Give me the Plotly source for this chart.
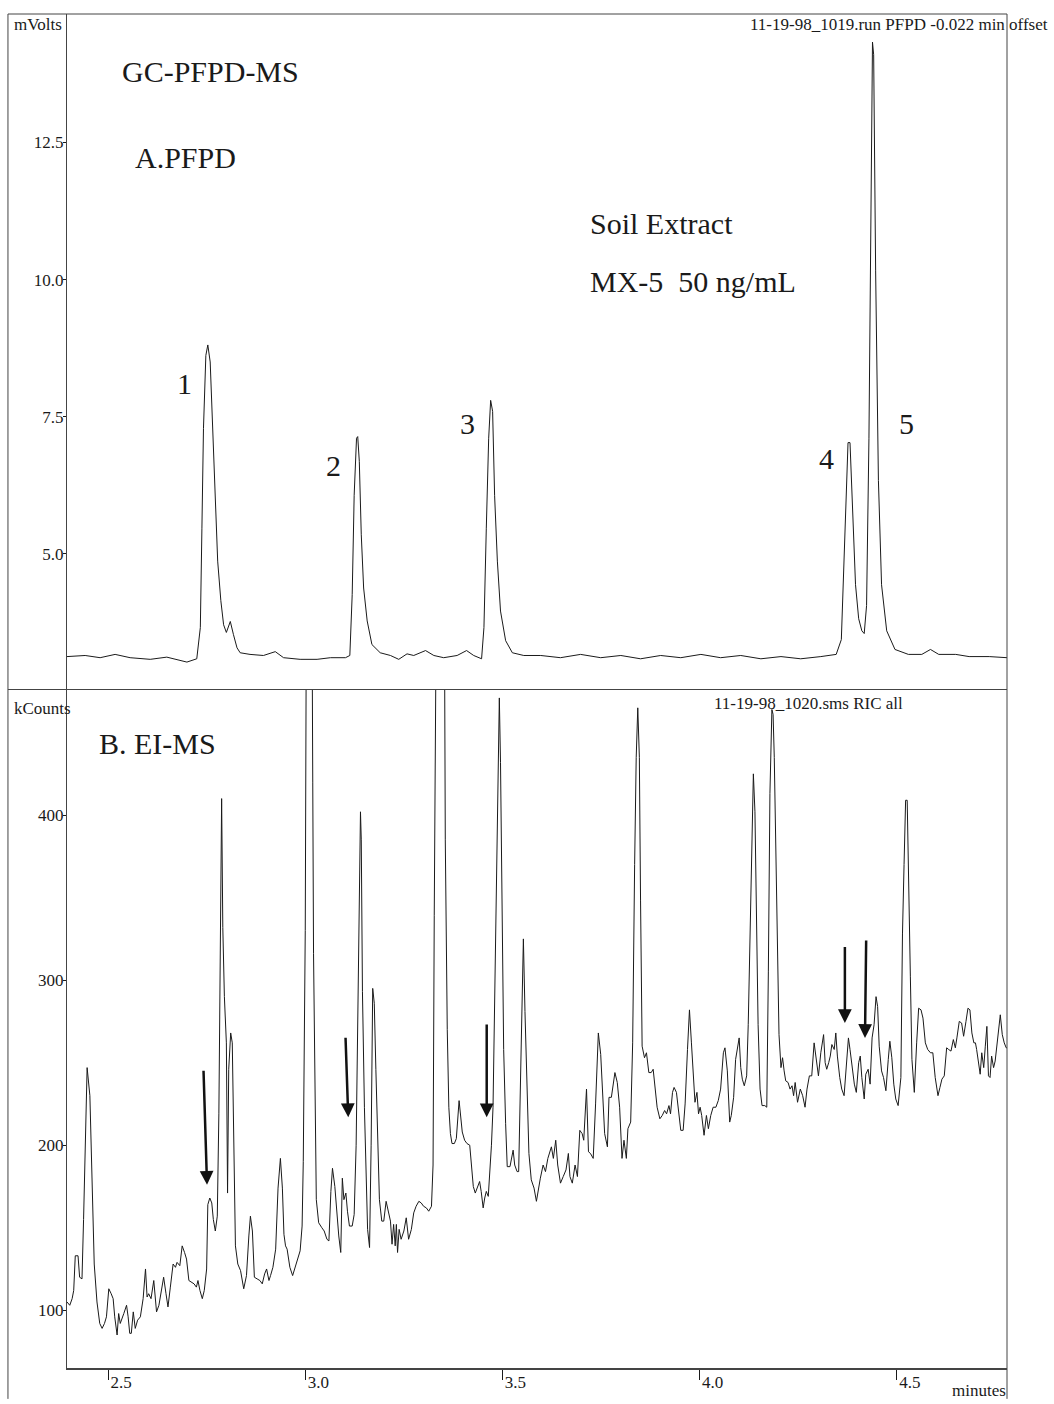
import plotly.graph_objects as go

# ---------------- data ----------------
pfpd_time = [2.396, 2.442, 2.480, 2.518, 2.556, 2.607, 2.649, 2.670, 2.700, 2.725,
             2.734, 2.738, 2.742, 2.748, 2.753, 2.759, 2.765, 2.772, 2.778, 2.786,
             2.793, 2.800, 2.804, 2.810, 2.818, 2.827, 2.835, 2.860, 2.894, 2.924,
             2.945, 2.987, 3.030, 3.064, 3.102, 3.113, 3.119, 3.124, 3.130, 3.133,
             3.137, 3.142, 3.148, 3.157, 3.169, 3.190, 3.216, 3.237, 3.258, 3.275,
             3.305, 3.326, 3.351, 3.385, 3.409, 3.427, 3.447, 3.453, 3.459, 3.465,
             3.470, 3.475, 3.480, 3.487, 3.495, 3.508, 3.525, 3.554, 3.597, 3.647,
             3.698, 3.749, 3.800, 3.850, 3.901, 3.952, 4.003, 4.053, 4.104, 4.155,
             4.206, 4.256, 4.307, 4.346, 4.359, 4.366, 4.372, 4.376, 4.381, 4.387,
             4.395, 4.403, 4.411, 4.417, 4.423, 4.429, 4.434, 4.438, 4.441, 4.446,
             4.453, 4.461, 4.474, 4.495, 4.529, 4.563, 4.585, 4.606, 4.649, 4.683,
             4.734, 4.779]
pfpd_mv = [3.13, 3.15, 3.11, 3.17, 3.11, 3.08, 3.12, 3.08, 3.03, 3.09,
           3.66, 5.47, 7.29, 8.62, 8.81, 8.50, 7.29, 5.78, 4.87, 4.15,
           3.71, 3.57, 3.66, 3.77, 3.53, 3.29, 3.20, 3.17, 3.15, 3.22,
           3.11, 3.08, 3.08, 3.11, 3.11, 3.15, 4.26, 6.07, 7.11, 7.14,
           6.69, 5.35, 4.38, 3.78, 3.35, 3.20, 3.15, 3.08, 3.18, 3.15,
           3.24, 3.15, 3.11, 3.15, 3.24, 3.15, 3.09, 3.66, 5.47, 7.11,
           7.80, 7.60, 6.07, 4.87, 3.96, 3.42, 3.20, 3.15, 3.15, 3.11,
           3.17, 3.11, 3.15, 3.09, 3.15, 3.11, 3.17, 3.11, 3.15, 3.09,
           3.13, 3.09, 3.13, 3.17, 3.44, 4.82, 6.34, 7.03, 7.03, 5.96,
           4.44, 3.82, 3.60, 3.55, 4.06, 7.11, 11.68, 14.33, 14.10, 10.16,
           6.34, 4.44, 3.60, 3.26, 3.17, 3.17, 3.26, 3.17, 3.17, 3.13,
           3.13, 3.11]

ms_time = [2.396, 2.403, 2.409, 2.413, 2.417, 2.424, 2.428, 2.434, 2.438, 2.442,
           2.447, 2.454, 2.459, 2.465, 2.472, 2.479, 2.485, 2.491, 2.496, 2.502,
           2.508, 2.513, 2.517, 2.523, 2.527, 2.531, 2.540, 2.547, 2.551, 2.555,
           2.559, 2.564, 2.569, 2.575, 2.582, 2.589, 2.595, 2.599, 2.603, 2.609,
           2.616, 2.623, 2.629, 2.635, 2.641, 2.647, 2.652, 2.658, 2.665, 2.671,
           2.675, 2.682, 2.688, 2.694, 2.699, 2.705, 2.711, 2.718, 2.724, 2.728,
           2.733, 2.739, 2.744, 2.750, 2.753, 2.758, 2.763, 2.767, 2.772, 2.777,
           2.781, 2.785, 2.788, 2.791, 2.795, 2.800, 2.802, 2.803, 2.806, 2.811,
           2.815, 2.819, 2.823, 2.829, 2.836, 2.844, 2.851, 2.857, 2.861, 2.866,
           2.871, 2.878, 2.885, 2.891, 2.897, 2.902, 2.908, 2.912, 2.918, 2.925,
           2.931, 2.937, 2.942, 2.946, 2.950, 2.954, 2.961, 2.968, 2.974, 2.980,
           2.987, 2.992, 2.995, 3.000, 3.005, 3.009, 3.014, 3.019, 3.021, 3.028,
           3.034, 3.042, 3.048, 3.055, 3.060, 3.065, 3.069, 3.075, 3.081, 3.085,
           3.090, 3.094, 3.098, 3.103, 3.107, 3.112, 3.119, 3.124, 3.129, 3.133,
           3.138, 3.140, 3.142, 3.145, 3.150, 3.154, 3.158, 3.163, 3.167, 3.171,
           3.175, 3.179, 3.184, 3.188, 3.194, 3.199, 3.205, 3.211, 3.216, 3.220,
           3.224, 3.228, 3.231, 3.234, 3.238, 3.243, 3.250, 3.256, 3.262, 3.269,
           3.275, 3.281, 3.288, 3.294, 3.300, 3.307, 3.313, 3.320, 3.324, 3.327,
           3.333, 3.339, 3.345, 3.350, 3.355, 3.360, 3.364, 3.368, 3.372, 3.378,
           3.383, 3.390, 3.393, 3.398, 3.404, 3.410, 3.417, 3.421, 3.426, 3.431,
           3.436, 3.442, 3.446, 3.451, 3.455, 3.459, 3.464, 3.468, 3.472, 3.476,
           3.480, 3.485, 3.489, 3.492, 3.495, 3.499, 3.503, 3.508, 3.512, 3.519,
           3.523, 3.527, 3.531, 3.537, 3.541, 3.546, 3.550, 3.553, 3.557, 3.563,
           3.567, 3.573, 3.580, 3.586, 3.590, 3.596, 3.603, 3.609, 3.615, 3.624,
           3.629, 3.635, 3.640, 3.647, 3.654, 3.661, 3.667, 3.671, 3.677, 3.684,
           3.690, 3.696, 3.702, 3.706, 3.713, 3.718, 3.723, 3.730, 3.736, 3.743,
           3.749, 3.753, 3.759, 3.766, 3.770, 3.776, 3.781, 3.785, 3.791, 3.797,
           3.803, 3.808, 3.814, 3.818, 3.825, 3.830, 3.835, 3.839, 3.843, 3.847,
           3.850, 3.854, 3.860, 3.865, 3.871, 3.877, 3.882, 3.888, 3.892, 3.899,
           3.905, 3.911, 3.916, 3.922, 3.926, 3.931, 3.935, 3.941, 3.946, 3.952,
           3.958, 3.963, 3.969, 3.974, 3.979, 3.984, 3.988, 3.993, 3.997, 4.001,
           4.005, 4.011, 4.017, 4.022, 4.028, 4.034, 4.041, 4.047, 4.053, 4.060,
           4.064, 4.070, 4.076, 4.080, 4.086, 4.091, 4.096, 4.100, 4.104, 4.108,
           4.113, 4.119, 4.123, 4.128, 4.133, 4.136, 4.140, 4.144, 4.148, 4.153,
           4.158, 4.165, 4.170, 4.174, 4.178, 4.183, 4.186, 4.189, 4.193, 4.197,
           4.201, 4.206, 4.210, 4.214, 4.218, 4.224, 4.229, 4.234, 4.238, 4.242,
           4.248, 4.255, 4.261, 4.267, 4.272, 4.278, 4.284, 4.290, 4.296, 4.301,
           4.307, 4.314, 4.318, 4.322, 4.327, 4.331, 4.335, 4.341, 4.345, 4.349,
           4.355, 4.360, 4.366, 4.372, 4.377, 4.381, 4.386, 4.392, 4.397, 4.403,
           4.407, 4.411, 4.417, 4.421, 4.427, 4.432, 4.437, 4.442, 4.447, 4.451,
           4.455, 4.461, 4.466, 4.472, 4.478, 4.482, 4.487, 4.492, 4.497, 4.503,
           4.510, 4.514, 4.518, 4.522, 4.526, 4.529, 4.534, 4.538, 4.544, 4.550,
           4.555, 4.561, 4.566, 4.572, 4.578, 4.585, 4.591, 4.597, 4.604, 4.609,
           4.614, 4.620, 4.626, 4.631, 4.637, 4.643, 4.648, 4.652, 4.658, 4.664,
           4.669, 4.675, 4.680, 4.685, 4.690, 4.695, 4.699, 4.702, 4.706, 4.711,
           4.715, 4.720, 4.724, 4.728, 4.732, 4.736, 4.740, 4.745, 4.749, 4.753,
           4.757, 4.762, 4.767, 4.772, 4.777, 4.781]
ms_kcounts = [105, 103, 107, 112, 133, 133, 120, 119, 155, 196,
              247, 230, 184, 128, 105, 92, 89, 92, 96, 113,
              110, 107, 96, 85, 98, 92, 98, 103, 96, 86,
              86, 99, 89, 94, 96, 107, 125, 108, 110, 107,
              118, 99, 103, 112, 120, 110, 102, 114, 128, 126,
              129, 127, 139, 135, 131, 118, 117, 116, 114, 118,
              112, 107, 112, 125, 164, 168, 165, 155, 148, 157,
              219, 360, 410, 332, 290, 262, 171, 171, 246, 268,
              262, 196, 139, 128, 124, 113, 121, 145, 157, 148,
              120, 119, 118, 116, 122, 125, 118, 121, 126, 137,
              174, 192, 174, 146, 139, 137, 126, 121, 126, 130,
              136, 151, 190, 330, 700, 950, 700, 420, 316, 167,
              153, 150, 148, 143, 142, 172, 186, 175, 153, 145,
              135, 180, 167, 171, 160, 151, 151, 158, 200, 281,
              363, 402, 385, 293, 223, 177, 149, 138, 200, 295,
              286, 246, 200, 167, 154, 154, 166, 160, 154, 140,
              152, 139, 152, 135, 149, 143, 148, 156, 143, 149,
              159, 163, 166, 165, 163, 162, 160, 163, 188, 339,
              600, 900, 1000, 700, 385, 270, 223, 207, 201, 201,
              204, 227, 218, 208, 203, 201, 200, 188, 175, 171,
              174, 178, 172, 162, 168, 172, 169, 183, 200, 223,
              293, 374, 432, 471, 432, 339, 258, 213, 187, 187,
              193, 197, 188, 184, 184, 246, 293, 325, 281, 223,
              195, 179, 174, 166, 172, 180, 188, 184, 192, 199,
              192, 203, 188, 177, 181, 185, 195, 181, 177, 188,
              181, 209, 207, 203, 234, 196, 195, 192, 225, 268,
              255, 234, 207, 199, 229, 229, 236, 244, 238, 223,
              192, 203, 192, 210, 214, 262, 370, 435, 465, 435,
              348, 260, 253, 256, 244, 244, 246, 234, 223, 216,
              218, 221, 219, 224, 219, 232, 235, 232, 223, 209,
              209, 225, 258, 282, 262, 240, 226, 232, 219, 223,
              218, 206, 218, 210, 218, 223, 223, 227, 234, 256,
              259, 245, 214, 218, 229, 252, 261, 265, 247, 240,
              236, 242, 273, 338, 402, 425, 402, 326, 273, 234,
              224, 224, 223, 305, 413, 464, 461, 435, 370, 306,
              267, 247, 253, 245, 239, 238, 234, 236, 230, 238,
              226, 234, 230, 223, 234, 242, 242, 262, 251, 242,
              256, 267, 250, 246, 250, 254, 261, 258, 268, 254,
              241, 234, 230, 247, 265, 258, 247, 237, 232, 250,
              254, 241, 228, 243, 246, 237, 265, 273, 290, 284,
              260, 245, 241, 233, 252, 263, 253, 237, 228, 224,
              241, 328, 370, 409, 409, 360, 302, 252, 232, 262,
              283, 282, 277, 262, 258, 256, 256, 241, 230, 235,
              240, 242, 259, 258, 257, 264, 259, 265, 275, 274,
              266, 275, 283, 282, 268, 262, 262, 258, 250, 243,
              256, 247, 260, 272, 242, 241, 254, 247, 251, 260,
              271, 279, 267, 262, 259, 259]

pfpd_ticks = [5.0, 7.5, 10.0, 12.5]
ms_ticks = [100, 200, 300, 400]
time_ticks = [2.5, 3.0, 3.5, 4.0, 4.5]

peak_labels = ["1", "2", "3", "4", "5"]
peak_label_time = [2.693, 3.071, 3.411, 4.322, 4.523]
peak_label_mv = [8.11, 6.62, 7.38, 6.74, 7.38]

# hand-drawn arrows in panel B: tip (time, kCounts) and tail (time, kCounts)
arrow_tip_time = [2.751, 3.109, 3.460, 4.368, 4.419]
arrow_tip_val = [176, 217, 217, 274, 265]
arrow_tail_time = [2.742, 3.102, 3.460, 4.368, 4.422]
arrow_tail_val = [246, 266, 274, 321, 325]

X_RANGE = [2.396, 4.779]
PFPD_RANGE = [2.530, 14.842]
MS_RANGE = [65.0, 476.1]

# ---------------- figure ----------------
FONT = "Liberation Serif, Times New Roman, serif"
INK = "#1a1a1a"
SPLIT = 0.5011  # paper y of the panel boundary

fig = go.Figure()
fig.add_trace(go.Scatter(x=pfpd_time, y=pfpd_mv, mode="lines", xaxis="x2", yaxis="y",
                         line=dict(color=INK, width=1), showlegend=False, hoverinfo="skip"))
fig.add_trace(go.Scatter(x=ms_time, y=ms_kcounts, mode="lines", xaxis="x", yaxis="y2",
                         line=dict(color=INK, width=1), showlegend=False, hoverinfo="skip"))

axis_common = dict(showgrid=False, zeroline=False, color=INK,
                   tickfont=dict(family=FONT, size=17, color=INK))

fig.update_layout(
    width=1054, height=1404,
    margin=dict(l=67, r=47, t=14, b=31),
    paper_bgcolor="white", plot_bgcolor="white",
    font=dict(family=FONT, color=INK),
    xaxis=dict(axis_common, domain=[0, 1], anchor="y2", range=X_RANGE,
               tickvals=time_ticks, ticktext=[f"{v:.1f}" for v in time_ticks],
               ticks="outside", ticklen=10, tickcolor=INK, tickwidth=1,
               ticklabelshift=13, ticklabelstandoff=-12,
               showline=True, linecolor="#444", linewidth=2),
    xaxis2=dict(domain=[0, 1], anchor="y", matches="x", range=X_RANGE,
                showticklabels=False, ticks="", showgrid=False, zeroline=False,
                showline=False),
    yaxis=dict(axis_common, domain=[SPLIT, 1], anchor="x2", range=PFPD_RANGE,
               tickvals=pfpd_ticks, ticktext=[f"{v:.1f}" for v in pfpd_ticks],
               ticks="outside", ticklen=3, tickcolor=INK, ticklabelstandoff=-4,
               showline=True, linecolor="#444", linewidth=1),
    yaxis2=dict(axis_common, domain=[0, SPLIT], anchor="x", range=MS_RANGE,
                tickvals=ms_ticks, ticktext=[str(v) for v in ms_ticks],
                ticks="outside", ticklen=3, tickcolor=INK, ticklabelstandoff=-4,
                showline=True, linecolor="#444", linewidth=1),
    yaxis3=dict(overlaying="y", side="right", anchor="x2", range=PFPD_RANGE,
                tickvals=pfpd_ticks, showticklabels=False, ticks="inside", ticklen=6,
                tickcolor=INK, showgrid=False, zeroline=False, showline=False),
    yaxis4=dict(overlaying="y2", side="right", anchor="x", range=MS_RANGE,
                tickvals=ms_ticks, showticklabels=False, ticks="inside", ticklen=6,
                tickcolor=INK, showgrid=False, zeroline=False, showline=False),
)

# frame lines (paper coordinates)
XL = -0.0628   # outer left frame
YB = -0.0228   # image bottom
frame = [
    dict(x0=XL, x1=XL, y0=YB, y1=1),
    dict(x0=XL, x1=1, y0=1, y1=1),
    dict(x0=XL, x1=1, y0=SPLIT, y1=SPLIT),
    dict(x0=1, x1=1, y0=YB, y1=1),
]
for f in frame:
    fig.add_shape(type="line", xref="paper", yref="paper", line=dict(color="#444", width=1), **f)

def txt(text, x, y, size, xanchor="left", yanchor="middle", xref="paper", yref="paper"):
    fig.add_annotation(text=text, x=x, y=y, xref=xref, yref=yref, showarrow=False,
                       xanchor=xanchor, yanchor=yanchor,
                       font=dict(family=FONT, size=size, color=INK))

BIG = 30
SMALL = 17
txt("mVolts", -0.0585, 0.9919, SMALL)
txt("kCounts", -0.0585, 0.4871, SMALL)
txt("GC-PFPD-MS", 0.0564, 0.9573, BIG)
txt("A.PFPD", 0.0702, 0.8940, BIG)
txt("Soil Extract", 0.5543, 0.8455, BIG)
txt("MX-5\u00a0\u00a050 ng/mL", 0.5543, 0.8028, BIG)
txt("B.\u00a0EI-MS", 0.0319, 0.4614, BIG)
txt("11-19-98_1019.run PFPD -0.022 min offset", 1.0457, 0.9926, SMALL, xanchor="right")
txt("11-19-98_1020.sms RIC all", 0.6862, 0.4908, SMALL)
txt("minutes", 1.001, -0.0169, SMALL, xanchor="right")

for lab, t, v in zip(peak_labels, peak_label_time, peak_label_mv):
    txt(lab, t, v, BIG, xanchor="center", xref="x2", yref="y")

for tt, tv, at, av in zip(arrow_tip_time, arrow_tip_val, arrow_tail_time, arrow_tail_val):
    fig.add_annotation(x=tt, y=tv, ax=at, ay=av, xref="x", yref="y2", axref="x", ayref="y2",
                       text="", showarrow=True, arrowhead=2, arrowsize=1.1,
                       arrowwidth=2.5, arrowcolor="#111")

fig.write_html("out.html")
